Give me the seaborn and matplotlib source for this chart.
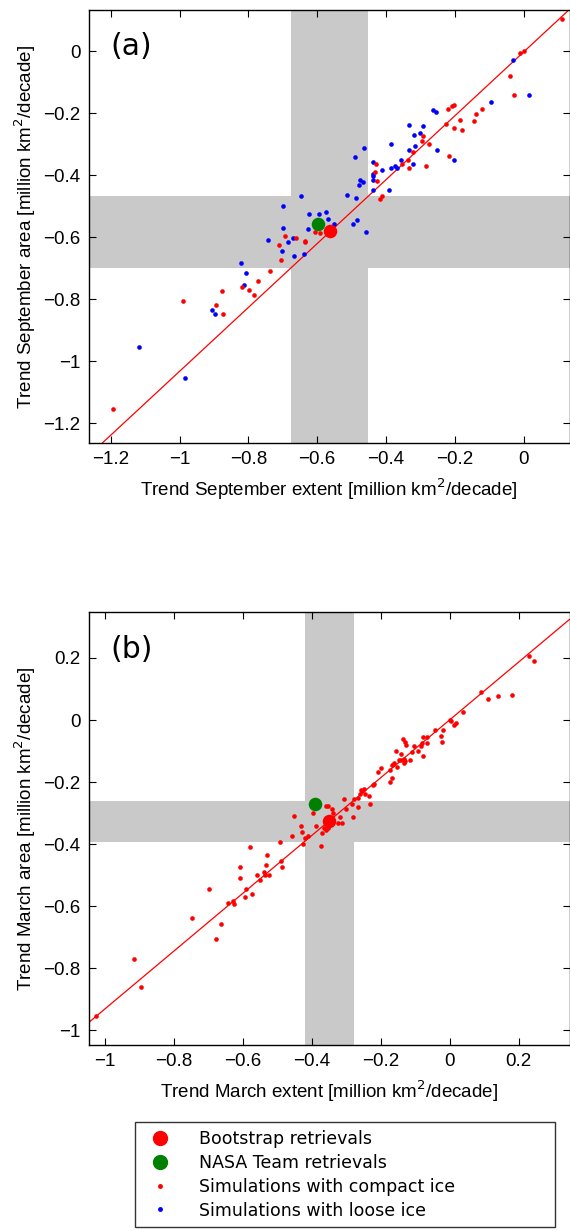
import numpy as np
import pandas as pd
import matplotlib
matplotlib.use("Agg")
import matplotlib.pyplot as plt
from matplotlib.lines import Line2D
import seaborn as sns

# ---------------- data ----------------
# Panel (a): September trends (million km^2/decade)
sep_compact_extent = [0.110, -0.012, 0.000, -0.039, -0.029, -0.122, -0.139, -0.144, -0.178, -0.186,
                      -0.202, -0.220, -0.209, -0.204, -0.227, -0.217, -0.274, -0.283, -0.292, -0.296,
                      -0.322, -0.337, -0.354, -0.333, -0.429, -0.431, -0.427, -0.413, -0.417, -0.606,
                      -0.593, -0.635, -0.636, -0.662, -0.694, -0.710, -0.706, -0.738, -0.771, -0.818,
                      -0.797, -0.783, -0.877, -0.894, -0.874, -0.990, -1.193]
sep_compact_area = [0.105, -0.007, 0.000, -0.081, -0.141, -0.185, -0.201, -0.224, -0.255, -0.223,
                    -0.249, -0.186, -0.175, -0.173, -0.236, -0.337, -0.298, -0.370, -0.273, -0.289,
                    -0.324, -0.350, -0.365, -0.378, -0.363, -0.389, -0.418, -0.468, -0.475, -0.584,
                    -0.586, -0.612, -0.615, -0.603, -0.597, -0.624, -0.674, -0.710, -0.740, -0.760,
                    -0.769, -0.785, -0.773, -0.817, -0.846, -0.805, -1.154]
sep_loose_extent = [-0.030, 0.014, -0.096, -0.265, -0.256, -0.334, -0.292, -0.319, -0.300, -0.316,
                    -0.333, -0.252, -0.204, -0.387, -0.464, -0.491, -0.357, -0.375, -0.367, -0.386,
                    -0.323, -0.438, -0.412, -0.438, -0.439, -0.439, -0.476, -0.468, -0.478, -0.439,
                    -0.392, -0.513, -0.487, -0.646, -0.699, -0.625, -0.594, -0.575, -0.570, -0.552,
                    -0.483, -0.497, -0.459, -0.627, -0.699, -0.670, -0.684, -0.744, -0.703, -0.668,
                    -0.638, -0.820, -0.808, -0.814, -0.906, -0.897, -1.118, -0.983]
sep_loose_area = [-0.027, -0.141, -0.165, -0.189, -0.197, -0.239, -0.242, -0.269, -0.263, -0.307,
                  -0.317, -0.317, -0.349, -0.299, -0.313, -0.341, -0.350, -0.369, -0.378, -0.378,
                  -0.365, -0.356, -0.382, -0.397, -0.401, -0.414, -0.414, -0.420, -0.431, -0.446,
                  -0.447, -0.465, -0.474, -0.466, -0.500, -0.525, -0.525, -0.518, -0.542, -0.558,
                  -0.545, -0.558, -0.584, -0.574, -0.569, -0.601, -0.616, -0.608, -0.644, -0.659,
                  -0.655, -0.684, -0.715, -0.752, -0.834, -0.846, -0.954, -1.053]
sep_bootstrap = (-0.563, -0.581)
sep_nasateam = (-0.597, -0.557)
sep_obs_extent_range = (-0.676, -0.451)
sep_obs_area_range = (-0.698, -0.466)
sep_fit = (1.03, -0.002)  # slope, intercept

# Panel (b): March trends (million km^2/decade)
mar_compact_extent = [0.245, 0.230, 0.181, 0.141, 0.110, 0.089,
                      0.037, 0.017, 0.013, 0.000, 0.003, -0.021, -0.027, -0.024, -0.043, -0.065,
                      -0.077, -0.065, -0.081, -0.084, -0.078, -0.092, -0.103, -0.111, -0.116, -0.135,
                      -0.130, -0.126, -0.143, -0.157, -0.149, -0.141, -0.134, -0.130, -0.132, -0.154,
                      -0.161, -0.174, -0.168, -0.199, -0.208, -0.168, -0.174, -0.219, -0.223, -0.249,
                      -0.257, -0.256, -0.246, -0.262, -0.268, -0.277, -0.235, -0.232, -0.283, -0.306,
                      -0.268, -0.301, -0.280, -0.318, -0.324, -0.313, -0.342, -0.338,
                      -1.026, -0.916, -0.897, -0.748, -0.699, -0.664, -0.679, -0.643, -0.628, -0.627,
                      -0.610, -0.610, -0.592, -0.593, -0.574, -0.581, -0.561, -0.551, -0.540, -0.535,
                      -0.533, -0.530, -0.524, -0.493, -0.490, -0.486, -0.459, -0.452, -0.432, -0.430,
                      -0.426, -0.421, -0.412, -0.398, -0.388, -0.375, -0.370, -0.364, -0.359, -0.354,
                      -0.359, -0.355]
mar_compact_area = [0.189, 0.205, 0.082, 0.077, 0.069, 0.090,
                    0.027, -0.010, -0.016, 0.001, -0.002, -0.031, -0.051, -0.070, -0.031, -0.055,
                    -0.056, -0.074, -0.074, -0.085, -0.115, -0.101, -0.083, -0.102, -0.130, -0.060,
                    -0.072, -0.079, -0.110, -0.099, -0.130, -0.128, -0.125, -0.132, -0.140, -0.152,
                    -0.140, -0.161, -0.145, -0.155, -0.169, -0.187, -0.200, -0.205, -0.208, -0.222,
                    -0.224, -0.230, -0.237, -0.237, -0.252, -0.255, -0.244, -0.269, -0.269, -0.256,
                    -0.279, -0.286, -0.311, -0.312, -0.332, -0.331, -0.287, -0.300,
                    -0.952, -0.770, -0.861, -0.637, -0.543, -0.656, -0.705, -0.589, -0.584, -0.593,
                    -0.473, -0.509, -0.546, -0.569, -0.559, -0.408, -0.500, -0.516, -0.490, -0.498,
                    -0.467, -0.434, -0.498, -0.393, -0.455, -0.473, -0.374, -0.310, -0.343, -0.361,
                    -0.399, -0.380, -0.373, -0.300, -0.340, -0.405, -0.363, -0.348, -0.276, -0.276,
                    -0.354, -0.348]
mar_bootstrap = (-0.350, -0.325)
mar_nasateam = (-0.390, -0.272)
mar_obs_extent_range = (-0.419, -0.278)
mar_obs_area_range = (-0.392, -0.260)
mar_fit = (0.931, 0.001)

sep_xticks = [-1.2, -1.0, -0.8, -0.6, -0.4, -0.2, 0.0]
sep_yticks = [-1.2, -1.0, -0.8, -0.6, -0.4, -0.2, 0.0]
mar_xticks = [-1.0, -0.8, -0.6, -0.4, -0.2, 0.0, 0.2]
mar_yticks = [-1.0, -0.8, -0.6, -0.4, -0.2, 0.0, 0.2]
sep_lim = (-1.263, 0.133)
mar_lim = (-1.047, 0.347)

legend_labels = ["Bootstrap retrievals", "NASA Team retrievals",
                 "Simulations with compact ice", "Simulations with loose ice"]

def ticklabel(v):
    if abs(v) < 1e-9:
        return "0"
    if abs(v - round(v)) < 1e-9:
        return "\u2212%d" % abs(round(v)) if v < 0 else "%d" % round(v)
    s = ("%.1f" % abs(v))
    return ("\u2212" + s) if v < 0 else s

# ---------------- style ----------------
sns.set_theme(style="white")
plt.rcParams.update({
    "font.family": ["Liberation Sans", "DejaVu Sans"],
    "text.color": "black", "axes.labelcolor": "black",
    "xtick.labelcolor": "black", "ytick.labelcolor": "black",
    "xtick.direction": "in", "ytick.direction": "in",
    "xtick.top": True, "ytick.right": True,
    "xtick.bottom": True, "ytick.left": True,
    "xtick.major.size": 5, "ytick.major.size": 5,
    "xtick.major.width": 0.8, "ytick.major.width": 0.8,
    "xtick.color": "black", "ytick.color": "black",
    "axes.edgecolor": "black", "axes.linewidth": 1.0,
    "xtick.labelsize": 13.5, "ytick.labelsize": 13.5,
})

RED = "#ff0000"
BLUE = "#0000ff"
GREEN = "#008000"
GRAY = "#c9c9c9"

W, H = 570, 1231
fig = plt.figure(figsize=(W / 100, H / 100), dpi=100)

def fax(l, t, r, b):
    return fig.add_axes([l / W, 1 - b / H, (r - l) / W, (b - t) / H])

ax_a = fax(89, 10, 569.5, 443)
ax_b = fax(89, 612.3, 569.5, 1045)

def panel(ax, lim, xr, yr, fit, comp_x, comp_y, loose_x, loose_y, boot, nasa,
          xticks, yticks, xlabel, ylabel, tag):
    ax.set_xlim(*lim)
    ax.set_ylim(*lim)
    ax.axvspan(xr[0], xr[1], color=GRAY, lw=0, zorder=0)
    ax.axhspan(yr[0], yr[1], color=GRAY, lw=0, zorder=0)
    ax.axline((0, fit[1]), slope=fit[0], color=RED, lw=0.9, zorder=2)
    if loose_x is not None:
        sns.scatterplot(x=loose_x, y=loose_y, color=BLUE, s=11, linewidth=0, ax=ax, zorder=3)
    sns.scatterplot(x=comp_x, y=comp_y, color=RED, s=11, linewidth=0, ax=ax, zorder=3)
    sns.scatterplot(x=[nasa[0]], y=[nasa[1]], color=GREEN, s=95, linewidth=0, ax=ax, zorder=4)
    sns.scatterplot(x=[boot[0]], y=[boot[1]], color=RED, s=95, linewidth=0, ax=ax, zorder=4)
    ax.set_xticks(xticks)
    ax.set_xticklabels([ticklabel(v) for v in xticks])
    ax.set_yticks(yticks)
    ax.set_yticklabels([ticklabel(v) for v in yticks])
    ax.set_xlabel(xlabel, fontsize=13.5, labelpad=6, color="black")
    ax.set_ylabel(ylabel, fontsize=13.5, labelpad=4, color="black")
    ax.tick_params(pad=6, labelcolor="black")
    for sp in ax.spines.values():
        sp.set_visible(True)
        sp.set_color("black")
        sp.set_zorder(5)
    ax.text(0.044, 0.915, tag, transform=ax.transAxes, fontsize=21.5,
            family="DejaVu Sans", va="center", ha="left", color="black")

panel(ax_a, sep_lim, sep_obs_extent_range, sep_obs_area_range, sep_fit,
      sep_compact_extent, sep_compact_area, sep_loose_extent, sep_loose_area,
      sep_bootstrap, sep_nasateam, sep_xticks, sep_yticks,
      "Trend September extent [million km$^2$/decade]",
      "Trend September area [million km$^2$/decade]", "(a)")
panel(ax_b, mar_lim, mar_obs_extent_range, mar_obs_area_range, mar_fit,
      mar_compact_extent, mar_compact_area, None, None,
      mar_bootstrap, mar_nasateam, mar_xticks, mar_yticks,
      "Trend March extent [million km$^2$/decade]",
      "Trend March area [million km$^2$/decade]", "(b)")

handles = [
    Line2D([], [], ls="none", marker="o", color=RED, markersize=10),
    Line2D([], [], ls="none", marker="o", color=GREEN, markersize=10),
    Line2D([], [], ls="none", marker="o", color=RED, markersize=2.5),
    Line2D([], [], ls="none", marker="o", color=BLUE, markersize=2.5),
]
leg = fig.legend(handles, legend_labels, loc="upper left",
                 bbox_to_anchor=(135 / W, 1 - 1230 / H, 420 / W, 108 / H),
                 mode="expand", borderaxespad=0, frameon=True, fancybox=False,
                 prop={"family": "DejaVu Sans", "size": 12.5},
                 handlelength=2.0, handletextpad=1.25, labelspacing=0.34,
                 borderpad=0.45, labelcolor="black")
leg.get_frame().set_edgecolor("black")
leg.get_frame().set_linewidth(1.0)

fig.savefig("out.png", dpi=100)
